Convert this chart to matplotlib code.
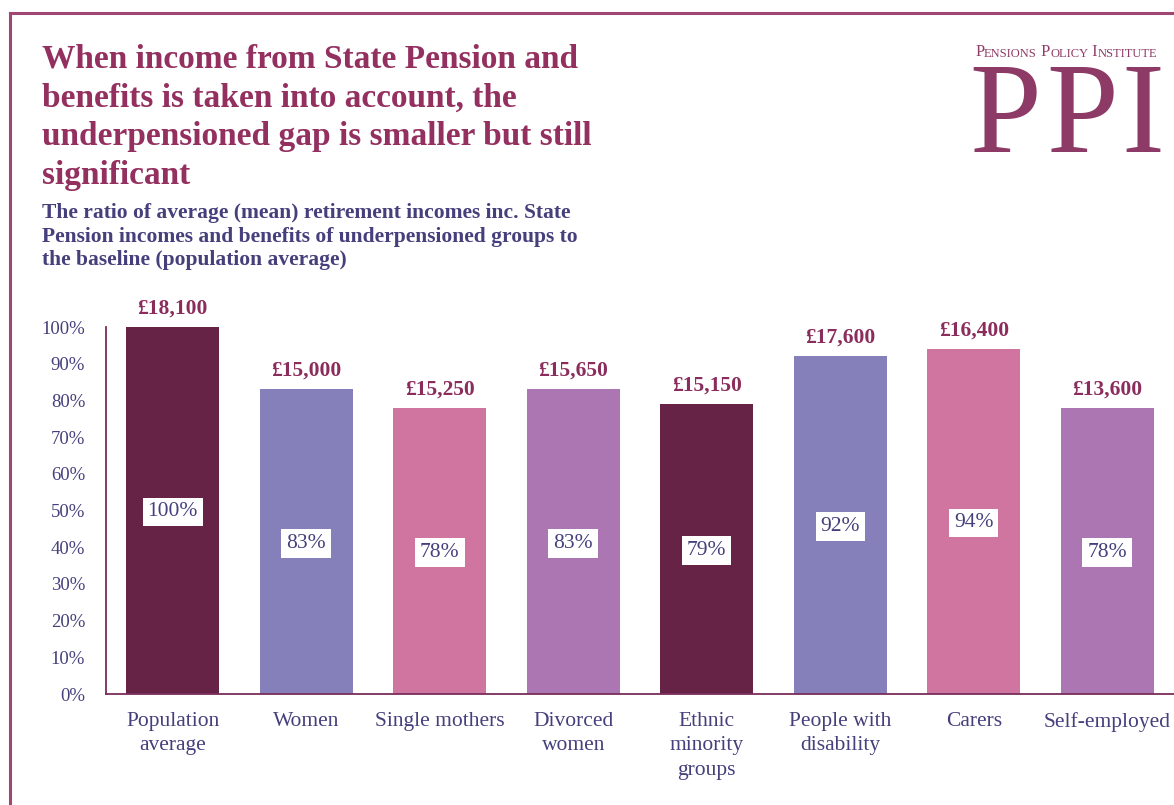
import matplotlib
matplotlib.use("Agg")
import matplotlib.pyplot as plt
from matplotlib.lines import Line2D
from matplotlib.text import Annotation

categories = ["Population\naverage", "Women", "Single mothers", "Divorced\nwomen",
              "Ethnic\nminority\ngroups", "People with\ndisability", "Carers", "Self-employed"]
ratio_pct = [100, 83, 78, 83, 79, 92, 94, 78]
mean_income = ["£18,100", "£15,000", "£15,250", "£15,650", "£15,150", "£17,600", "£16,400", "£13,600"]
bar_colors = ["#662345", "#8580b9", "#d075a0", "#ab76b1",
              "#662345", "#8580b9", "#d075a0", "#ab76b1"]
y_ticks = list(range(0, 101, 10))

SERIF = "Liberation Serif"
PLUM = "#93305f"
NAVY = "#453f7c"
FRAME = "#a04672"

W, H = 1174, 805
fig = plt.figure(figsize=(W / 100, H / 100), dpi=100)
fig.patch.set_facecolor("white")

# frame lines along the top and left
fig.add_artist(Line2D([10 / W, 1], [1 - 13 / H, 1 - 13 / H], color=FRAME, lw=2.2))
fig.add_artist(Line2D([10 / W, 10 / W], [0, 1 - 13 / H], color=FRAME, lw=2.2))

# headline and subtitle
fig.text(42 / W, 1 - 44 / H,
         "When income from State Pension and\nbenefits is taken into account, the\n"
         "underpensioned gap is smaller but still\nsignificant",
         family=SERIF, weight="bold", color=PLUM, fontsize=24, va="top", ha="left",
         linespacing=1.32)
fig.text(42 / W, 1 - 203 / H,
         "The ratio of average (mean) retirement incomes inc. State\n"
         "Pension incomes and benefits of underpensioned groups to\n"
         "the baseline (population average)",
         family=SERIF, weight="bold", color=NAVY, fontsize=15.5, va="top", ha="left",
         linespacing=1.25)

# PPI logo: small-caps name line built as a chain of text pieces
logo_col = "#8e3a66"
prev = fig.text(975 / W, 1 - 60 / H, "P", family=SERIF, color=logo_col,
                fontsize=11.8, ha="left", va="bottom")
for txt, sz in [("ENSIONS", 9), (" P", 11.8), ("OLICY", 9), (" I", 11.8), ("NSTITUTE", 9)]:
    ann = Annotation(txt, xy=(1, 0), xycoords=prev, va="bottom", ha="left",
                     family=SERIF, color=logo_col, fontsize=sz)
    fig.add_artist(ann)
    prev = ann
for letter, left in zip("PPI", [969, 1046, 1121]):
    fig.text(left / W, 1 - 152 / H, letter, family=SERIF, color=logo_col,
             fontsize=93, ha="left", va="baseline")

# chart
ax = fig.add_axes([106 / W, 111 / H, 1 - 106 / W, 367 / H])
x = list(range(len(categories)))
ax.bar(x, ratio_pct, width=0.70, color=bar_colors, zorder=2)
ax.set_xlim(-0.5, 7.5)
ax.set_ylim(0, 100)
ax.set_yticks(y_ticks)
ax.set_yticklabels([f"{v}%" for v in y_ticks], family=SERIF, color=NAVY, fontsize=13.5)
ax.tick_params(axis="y", length=0, pad=15)
ax.set_xticks(x)
ax.set_xticklabels(categories, family=SERIF, color=NAVY, fontsize=15.5, linespacing=1.38,
                   va="top")
ax.tick_params(axis="x", length=0, pad=13)
for s in ["top", "right"]:
    ax.spines[s].set_visible(False)
for s in ["left", "bottom"]:
    ax.spines[s].set_color("#7a2d5a")
    ax.spines[s].set_linewidth(1.3)

for xi, v, money in zip(x, ratio_pct, mean_income):
    ax.text(xi, v + 2.3, money, ha="center", va="bottom", family=SERIF, weight="bold",
            color="#8b2d5c", fontsize=15.5, clip_on=False)
    ax.text(xi, v / 2 - 0.4, f"{v}%", ha="center", va="center", family=SERIF, color=NAVY,
            fontsize=15.5, bbox=dict(facecolor="white", edgecolor="none", pad=3.6))

fig.savefig("out.png", dpi=100)
